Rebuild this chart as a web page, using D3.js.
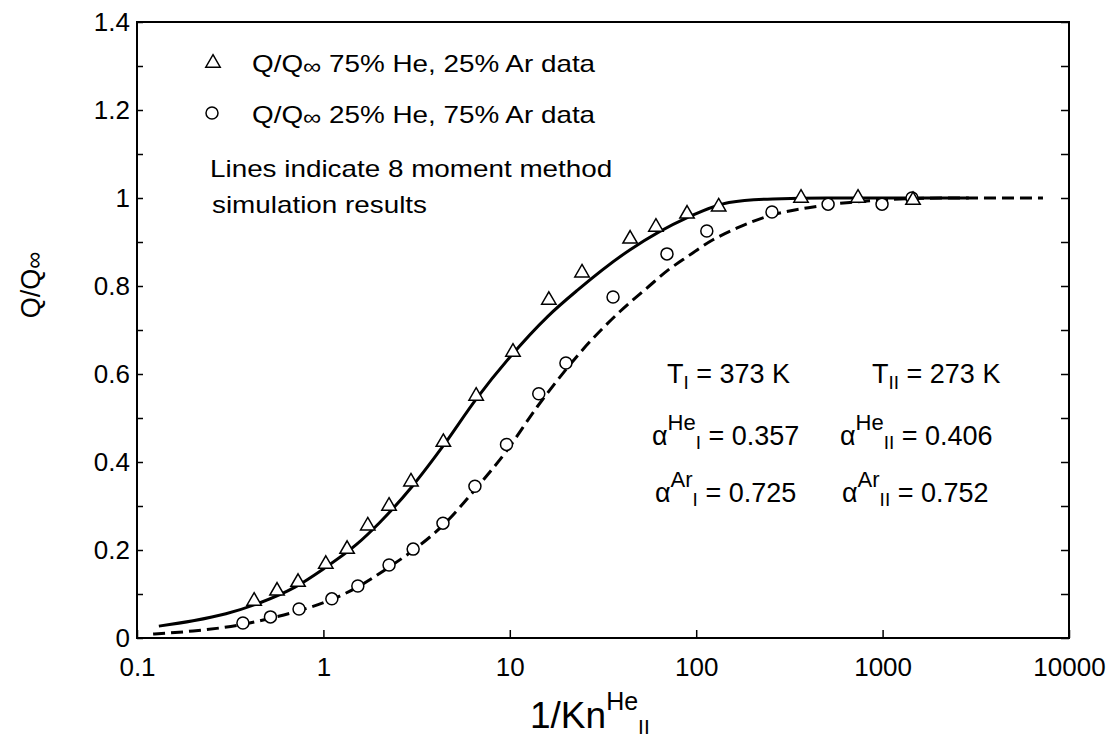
<!DOCTYPE html>
<html lang="en">
<head>
  <meta charset="UTF-8">
  <title>Q/Q-inf vs 1/Kn</title>
  <script src="https://d3js.org/d3.v7.min.js"></script>
  <style>
    body { margin: 0; background: #fff; }
    text { font-family: "Liberation Sans", Arial, sans-serif; fill: #000; }
    .axis path { display: none; }
    .axis line { stroke: #000; stroke-width: 1.5; }
    .axis text { font-size: 26px; font-family: "Liberation Sans", Arial, sans-serif; }
  </style>
</head>
<body>
  <svg id="svg" width="1116" height="742"></svg>
  <script>
    // data
    var heRichX = [0.425, 0.564, 0.731, 1.03, 1.34, 1.73, 2.25, 2.95, 4.4, 6.6, 10.4, 16.2, 24.4, 44.2, 60.8, 89.3, 132, 365, 738, 1456]
    var heRichY = [0.084, 0.107, 0.127, 0.168, 0.202, 0.255, 0.30, 0.355, 0.445, 0.55, 0.65, 0.768, 0.83, 0.907, 0.934, 0.964, 0.98, 1.0, 1.0, 0.995]

    var arRichX = [0.37, 0.52, 0.74, 1.11, 1.53, 2.25, 3.03, 4.38, 6.5, 9.6, 14.3, 20, 35.8, 69.7, 114, 255, 510, 993, 1438]
    var arRichY = [0.034, 0.048, 0.066, 0.089, 0.118, 0.166, 0.202, 0.261, 0.345, 0.44, 0.555, 0.625, 0.775, 0.873, 0.925, 0.968, 0.986, 0.986, 1.0]

    // 8 moment method curves
    var simHeX = [0.131, 0.2, 0.3, 0.45, 0.7, 1, 1.5, 2, 3, 4.4, 6.6, 10, 15.9, 23, 44, 89, 150, 258, 500, 2900]
    var simHeY = [0.027, 0.039, 0.055, 0.079, 0.115, 0.157, 0.212, 0.262, 0.345, 0.437, 0.543, 0.638, 0.73, 0.79, 0.882, 0.955, 0.99, 0.998, 1.0, 1.0]

    var simArX = [0.122, 0.2, 0.37, 0.52, 0.74, 1.1, 1.5, 2.25, 3, 4.4, 6.5, 9.6, 14, 20, 24, 39, 56, 70, 85, 123, 166, 249, 400, 668, 2290, 7250]
    var simArY = [0.009, 0.016, 0.031, 0.045, 0.062, 0.087, 0.114, 0.161, 0.198, 0.257, 0.337, 0.425, 0.525, 0.61, 0.65, 0.742, 0.80, 0.835, 0.86, 0.905, 0.932, 0.96, 0.978, 0.99, 1.0, 1.0]

    var xTicks = [0.1, 1, 10, 100, 1000, 10000]
    var xTickLabels = ['0.1', '1', '10', '100', '1000', '10000']
    var yTicks = [0, 0.2, 0.4, 0.6, 0.8, 1, 1.2, 1.4]
    var yMinor = [0.1, 0.3, 0.5, 0.7, 0.9, 1.1, 1.3]

    var box = { left: 137, right: 1069, top: 22, bottom: 638 }

    var x = d3.scaleLog().domain([0.1, 10000]).range([box.left, box.right])
    var y = d3.scaleLinear().domain([0, 1.4]).range([box.bottom, box.top])

    var svg = d3.select('#svg')

    // axes
    svg.append('g')
      .attr('class', 'axis')
      .attr('transform', 'translate(0,' + box.bottom + ')')
      .call(d3.axisBottom(x).tickValues(xTicks)
        .tickFormat((d, i) => xTickLabels[i]).tickSize(-8).tickPadding(20))

    svg.append('g')
      .attr('class', 'axis')
      .attr('transform', 'translate(' + box.left + ',0)')
      .call(d3.axisLeft(y).tickValues(yTicks)
        .tickFormat(d => String(+d.toFixed(1))).tickSize(-6).tickPadding(7))

    svg.append('g')
      .attr('class', 'axis')
      .attr('transform', 'translate(' + box.left + ',0)')
      .call(d3.axisLeft(y).tickValues(yMinor).tickFormat('').tickSize(-6))

    svg.append('g')
      .attr('class', 'axis')
      .attr('transform', 'translate(' + box.right + ',0)')
      .call(d3.axisRight(y).tickValues(yTicks.concat(yMinor)).tickFormat('').tickSize(-8))

    svg.append('rect')
      .attr('x', box.left).attr('y', box.top)
      .attr('width', box.right - box.left).attr('height', box.bottom - box.top)
      .attr('fill', 'none').attr('stroke', '#000').attr('stroke-width', 2)

    // lines
    var line = d3.line()
      .x(d => x(d[0]))
      .y(d => y(d[1]))
      .curve(d3.curveMonotoneX)

    svg.append('path')
      .datum(d3.zip(simHeX, simHeY))
      .attr('d', line)
      .attr('fill', 'none').attr('stroke', '#000').attr('stroke-width', 3)

    svg.append('path')
      .datum(d3.zip(simArX, simArY))
      .attr('d', line)
      .attr('fill', 'none').attr('stroke', '#000').attr('stroke-width', 3)
      .attr('stroke-dasharray', '12,6')

    // markers
    var tri = d3.symbol().type(d3.symbolTriangle).size(90)

    svg.append('g').selectAll('circle')
      .data(d3.zip(arRichX, arRichY))
      .enter().append('circle')
      .attr('cx', d => x(d[0]))
      .attr('cy', d => y(d[1]))
      .attr('r', 6)
      .attr('fill', '#fff').attr('stroke', '#000').attr('stroke-width', 1.5)

    svg.append('g').selectAll('path')
      .data(d3.zip(heRichX, heRichY))
      .enter().append('path')
      .attr('d', tri)
      .attr('transform', d => 'translate(' + x(d[0]) + ',' + y(d[1]) + ')')
      .attr('fill', '#fff').attr('stroke', '#000').attr('stroke-width', 1.5)

    // legend
    svg.append('path').attr('d', tri)
      .attr('transform', 'translate(213,63)')
      .attr('fill', '#fff').attr('stroke', '#000').attr('stroke-width', 1.5)
    svg.append('circle').attr('cx', 212).attr('cy', 113).attr('r', 6)
      .attr('fill', '#fff').attr('stroke', '#000').attr('stroke-width', 1.5)

    function wideText(tx, ty, parts) {
      var t = svg.append('text')
        .attr('transform', 'translate(' + tx + ',' + ty + ') scale(1.16,1)')
        .attr('font-size', 24)
      parts.forEach(p => {
        var s = t.append('tspan').text(p[0])
        if (p[1]) s.attr('font-size', p[1])
        if (p[2]) s.attr('dy', p[2])
      })
      return t
    }
    wideText(252, 72, [['Q/Q'], ['\u221E', 22, 2], [' 75% He, 25% Ar data', 24, -2]])
    wideText(252, 123, [['Q/Q'], ['\u221E', 22, 2], [' 25% He, 75% Ar data', 24, -2]])
    wideText(210, 177, [['Lines indicate 8 moment method']])
    wideText(212, 213, [['simulation results']])

    // parameter annotations
    function note(tx, ty, parts) {
      var t = svg.append('text').attr('x', tx).attr('y', ty).attr('font-size', 27)
      parts.forEach(p => {
        var s = t.append('tspan').text(p[0])
        if (p[1]) s.attr('font-size', p[1])
        if (p[2]) s.attr('dy', p[2])
      })
    }
    note(667, 383, [['T'], ['I', 19, 6], [' = 373 K', 27, -6]])
    note(872, 383, [['T'], ['II', 19, 6], [' = 273 K', 27, -6]])
    note(652, 445, [['\u03B1'], ['He', 22, -15], ['I', 19, 19], [' = 0.357', 27, -4]])
    note(840, 445, [['\u03B1'], ['He', 22, -15], ['II', 19, 19], [' = 0.406', 27, -4]])
    note(655, 502, [['\u03B1'], ['Ar', 22, -15], ['I', 19, 19], [' = 0.725', 27, -4]])
    note(842, 502, [['\u03B1'], ['Ar', 22, -15], ['II', 19, 19], [' = 0.752', 27, -4]])

    // axis titles
    var xt = svg.append('text').attr('x', 530).attr('y', 728).attr('font-size', 37)
    xt.append('tspan').text('1/Kn')
    xt.append('tspan').text('He').attr('font-size', 25).attr('dy', -18)
    xt.append('tspan').text('II').attr('font-size', 21).attr('dy', 24)

    var yt = svg.append('text')
      .attr('transform', 'translate(40,285) rotate(-90)')
      .attr('text-anchor', 'middle').attr('font-size', 27)
    yt.append('tspan').text('Q/Q')
    yt.append('tspan').text('\u221E').attr('font-size', 24).attr('dy', 2)
  </script>
</body>
</html>
